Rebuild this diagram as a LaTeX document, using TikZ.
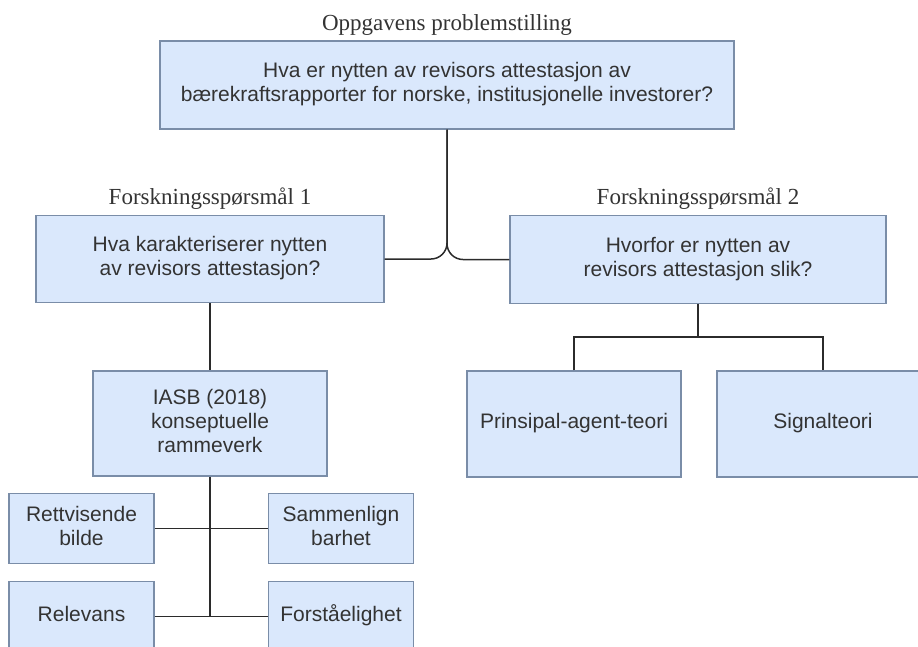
\documentclass[tikz,border=0pt]{standalone}
\usepackage{fontspec}
\setmainfont{Liberation Serif}
\setsansfont{Liberation Sans}
\begin{document}
\begin{tikzpicture}[x=1pt, y=-1pt,
  box/.style={draw=boxline, fill=boxfill, line width=1.2pt, inner sep=0pt,
    align=center, text=textgray, font=\sffamily\fontsize{21}{24}\selectfont},
  caption/.style={inner sep=0pt, text=textgray, font=\rmfamily\fontsize{23}{26}\selectfont},
  link/.style={draw=linegray, line width=1.5pt}
]
\definecolor{boxfill}{HTML}{DAE8FC}
\definecolor{boxline}{HTML}{7A8DA8}
\definecolor{textgray}{HTML}{333333}
\definecolor{linegray}{HTML}{2B2B2B}

\useasboundingbox (0,0) rectangle (918,646);
\clip (0,0) rectangle (918,646);

% main question
\node[box, minimum width=574pt, minimum height=88pt] (top) at (447,85)
  {\strut Hva er nytten av revisors attestasjon av\\bærekraftsrapporter for norske, institusjonelle investorer?\strut};
\node[caption, anchor=base] (topcap) at ([yshift=9.5pt]top.north) {Oppgavens problemstilling};

% research questions
\node[box, minimum width=348pt, minimum height=87pt] (fq1) at (210,259)
  {\strut Hva karakteriserer nytten\\av revisors attestasjon?\strut};
\node[caption, anchor=base] (fq1cap) at ([yshift=10pt]fq1.north) {Forskningsspørsmål 1};

\node[box, minimum width=376pt, minimum height=88pt] (fq2) at (698,259.5)
  {\strut Hvorfor er nytten av\\revisors attestasjon slik?\strut};
\node[caption, anchor=base] (fq2cap) at ([yshift=10pt]fq2.north) {Forskningsspørsmål 2};

% framework and theories
\node[box, minimum width=234pt, minimum height=105pt] (iasb) at (210,423.5)
  {\strut IASB (2018)\\konseptuelle\\rammeverk\strut};
\node[box, minimum width=214pt, minimum height=106pt] (pa) at (574,424)
  {\strut Prinsipal-agent-teori};
\node[box, minimum width=212pt, minimum height=106pt] (sig) at (823,424)
  {\strut Signalteori};

% qualitative characteristics
\node[box, minimum width=145pt, minimum height=70pt] (rett) at (81.5,528.5)
  {\strut Rettvisende\\bilde\strut};
\node[box, minimum width=145pt, minimum height=70pt] (samm) at (341,528.5)
  {\strut Sammenlign\\barhet\strut};
\node[box, minimum width=145pt, minimum height=70pt] (rel) at (81.5,616.5)
  {\strut Relevans};
\node[box, minimum width=145pt, minimum height=70pt] (forst) at (341,616.5)
  {\strut Forståelighet};

% connectors
\draw[link, rounded corners=16pt] (fq1.east) -| (top.south);
\draw[link, rounded corners=16pt] (fq2.west) -| (top.south);
\draw[link] (fq1.south) -- (iasb.north);

\coordinate (bar) at (698,337);
\draw[link] (fq2.south) -- (bar);
\draw[link] (pa.north) |- (bar) -| (sig.north);

\coordinate (spine) at (210,616.5);
\draw[link] (iasb.south) -- (spine);
\draw[link] (rett.east) -- (samm.west);
\draw[link] (rel.east) -- (forst.west);
\end{tikzpicture}
\end{document}
